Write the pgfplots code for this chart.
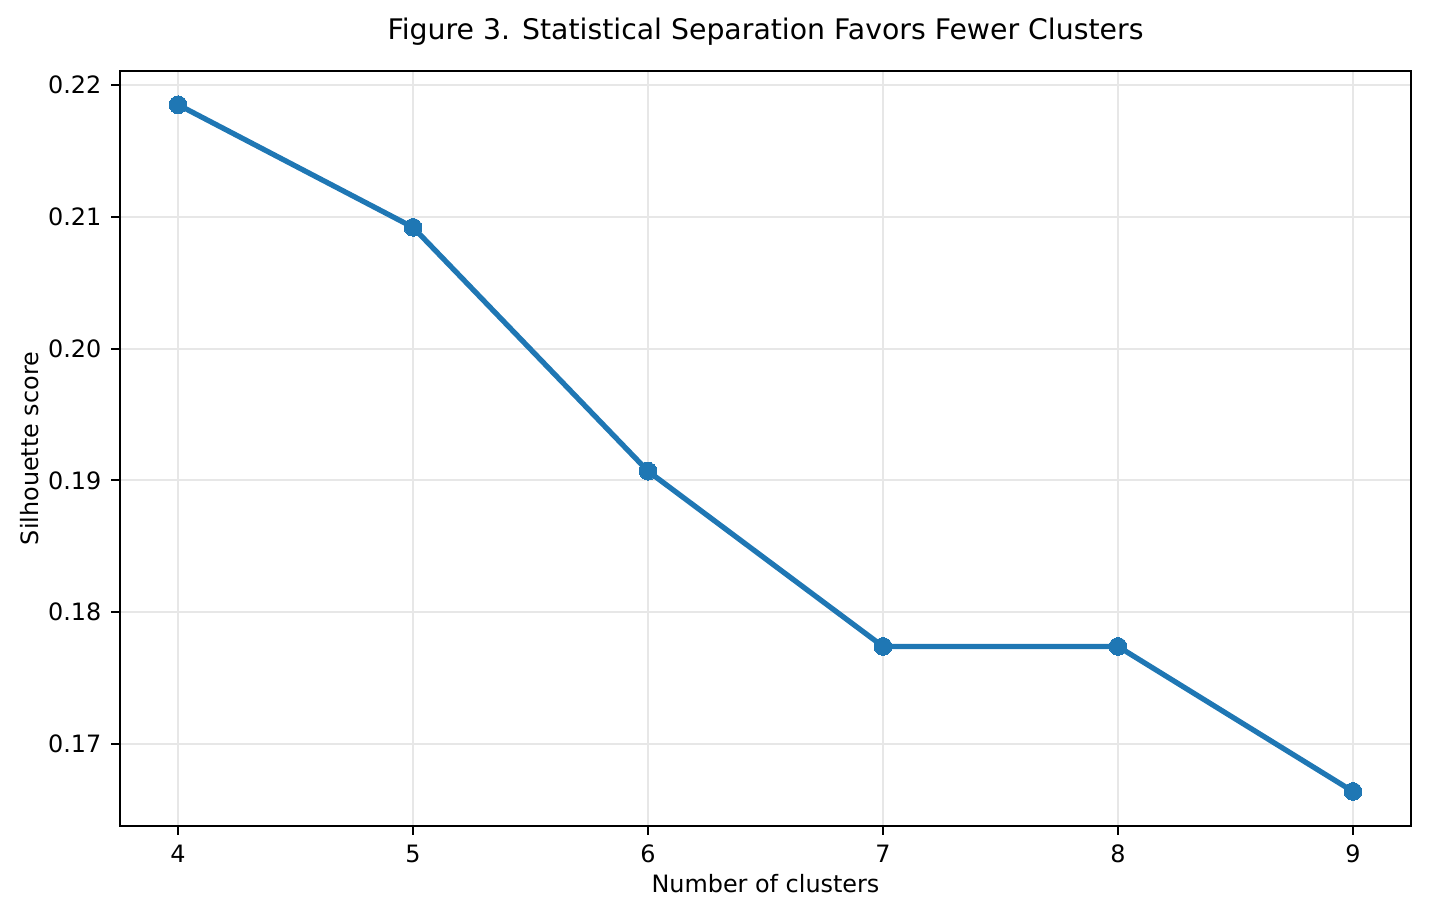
\documentclass[border=0pt]{standalone}
\usepackage{fontspec}
\setmainfont{DejaVu Sans}
\usepackage{pgfplots}
\pgfplotsset{compat=1.18}
\definecolor{mplblue}{HTML}{1F77B4}
\definecolor{gridc}{HTML}{E7E7E7}
\begin{document}
\begin{tikzpicture}
\path[use as bounding box] (-43.2pt,-32.4pt) rectangle (471.24pt,297.36pt);
\begin{axis}[
  at={(0,0)}, anchor=south west,
  scale only axis,
  width=464.76pt, height=271.8pt,
  xmin=3.753, xmax=9.247,
  ymin=0.16378, ymax=0.22106,
  xtick={4,5,6,7,8,9},
  ytick={0.17,0.18,0.19,0.20,0.21,0.22},
  yticklabels={0.17,0.18,0.19,0.20,0.21,0.22},
  xticklabels={4,5,6,7,8,9},
  /pgf/number format/assume math mode=true,
  tick label style={font=\fontsize{8.6}{10}\selectfont, text=black},
  tick align=outside, tick pos=left,
  major tick length=3.2pt,
  every tick/.style={black, line width=0.7pt},
  axis line style={line width=0.7pt, black},
  grid=major,
  major grid style={gridc, line width=0.7pt},
  xlabel={Number of clusters},
  ylabel={Silhouette score},
  label style={font=\fontsize{8.6}{10}\selectfont},
  xlabel style={at={(axis description cs:0.5,-0.0887)}, anchor=base},
  ylabel style={at={(axis description cs:-0.0628,0.5)}, anchor=base},
  title={Figure 3. Statistical Separation Favors Fewer Clusters},
  title style={font=\fontsize{10.2}{12}\selectfont, at={(axis description cs:0.5,1.0191)}, anchor=base},
]
\addplot[mplblue, line width=1.9pt, mark=*, mark size=3.2pt, mark options={fill=mplblue, draw=mplblue, line width=0pt}]
coordinates {
(4,0.2185)
(5,0.2092)
(6,0.1907)
(7,0.1774)
(8,0.1774)
(9,0.1664)
};
\end{axis}
\end{tikzpicture}
\end{document}
